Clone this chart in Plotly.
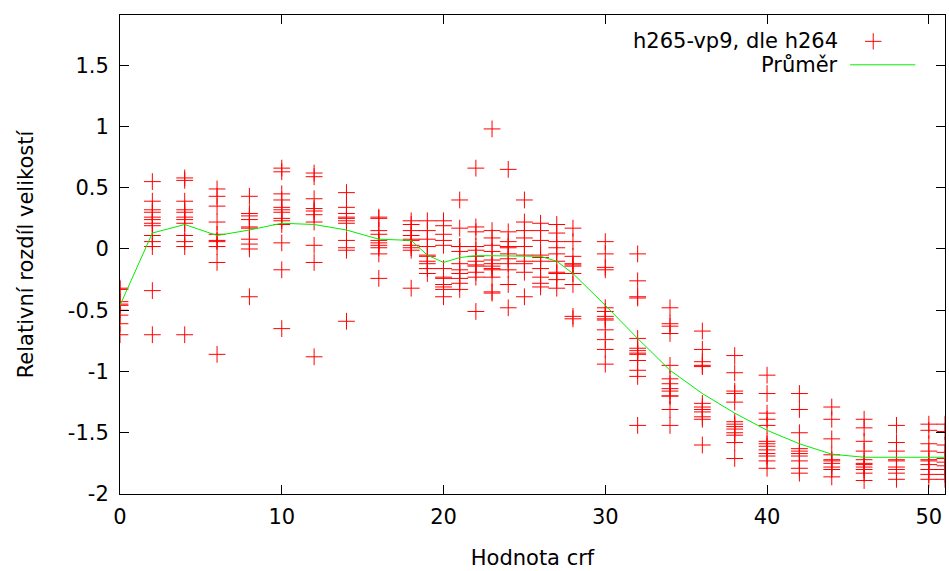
import plotly.graph_objects as go

# crf values for each column of points
crf = [0, 2, 4, 6, 8, 10, 12, 14, 16, 18, 19, 20, 21, 22, 23, 24, 25, 26, 27, 28,
       30, 32, 34, 36, 38, 40, 42, 44, 46, 48, 50, 51]

# relative size difference h265-vp9 (relative to h264), one list per crf
rel_diff = [
    [-0.32, -0.33, -0.43, -0.45, -0.46, -0.50, -0.54, -0.61, -0.70],
    [0.55, 0.39, 0.32, 0.30, 0.26, 0.24, 0.21, 0.19, 0.11, 0.06, 0.02, -0.34, -0.70],
    [0.58, 0.56, 0.39, 0.32, 0.30, 0.26, 0.24, 0.21, 0.11, 0.06, 0.02, -0.70],
    [0.49, 0.43, 0.35, 0.22, 0.12, 0.07, 0.06, 0.02, -0.11, -0.86],
    [0.43, 0.29, 0.27, 0.24, 0.18, 0.17, 0.08, 0.04, 0.00, -0.39],
    [0.66, 0.63, 0.45, 0.40, 0.34, 0.32, 0.30, 0.25, 0.23, 0.20, 0.05, -0.17, -0.65],
    [0.62, 0.59, 0.41, 0.33, 0.31, 0.28, 0.22, 0.03, -0.11, -0.88],
    [0.46, 0.34, 0.29, 0.26, 0.25, 0.23, 0.21, 0.07, 0.01, -0.01, -0.59],
    [0.26, 0.25, 0.15, 0.12, 0.07, 0.05, 0.03, 0.01, -0.04, -0.24],
    [0.23, 0.20, 0.15, 0.11, 0.08, 0.07, 0.03, 0.01, -0.01, -0.32],
    [0.23, 0.15, 0.08, 0.02, -0.05, -0.06, -0.10, -0.12, -0.16, -0.20],
    [0.23, 0.19, 0.12, 0.07, 0.03, -0.16, -0.23, -0.24, -0.29, -0.31, -0.33, -0.39],
    [0.40, 0.17, 0.02, 0.02, -0.02, -0.12, -0.17, -0.20, -0.24, -0.28, -0.33],
    [0.66, 0.18, 0.14, 0.02, -0.01, -0.06, -0.10, -0.13, -0.14, -0.19, -0.23, -0.51],
    [0.98, 0.15, 0.09, 0.03, -0.02, -0.09, -0.12, -0.14, -0.16, -0.17, -0.23, -0.35, -0.36],
    [0.65, 0.14, 0.06, 0.02, 0.01, -0.04, -0.08, -0.12, -0.17, -0.29, -0.48],
    [0.40, 0.22, 0.15, 0.09, 0.02, -0.05, -0.10, -0.12, -0.19, -0.39],
    [0.21, 0.15, 0.07, -0.05, -0.07, -0.10, -0.16, -0.23, -0.28, -0.31],
    [0.20, 0.13, 0.06, 0.01, -0.04, -0.10, -0.19, -0.20, -0.25, -0.32],
    [0.17, 0.06, -0.06, -0.12, -0.13, -0.14, -0.20, -0.29, -0.55, -0.57],
    [0.06, -0.04, -0.15, -0.17, -0.48, -0.51, -0.55, -0.57, -0.58, -0.66, -0.74, -0.82, -0.94],
    [-0.04, -0.26, -0.39, -0.40, -0.73, -0.81, -0.83, -0.85, -0.86, -0.91, -0.99, -1.04, -1.44],
    [-0.48, -0.61, -0.63, -0.69, -0.95, -1.06, -1.10, -1.14, -1.16, -1.20, -1.20, -1.31, -1.44],
    [-0.67, -0.82, -0.92, -0.95, -0.96, -1.26, -1.29, -1.31, -1.33, -1.37, -1.39, -1.60],
    [-0.87, -1.01, -1.16, -1.18, -1.25, -1.41, -1.43, -1.45, -1.47, -1.50, -1.52, -1.58, -1.71],
    [-1.03, -1.18, -1.34, -1.39, -1.44, -1.57, -1.59, -1.61, -1.64, -1.67, -1.69, -1.73, -1.79],
    [-1.18, -1.31, -1.50, -1.63, -1.65, -1.67, -1.69, -1.73, -1.79, -1.83],
    [-1.29, -1.39, -1.55, -1.68, -1.72, -1.73, -1.75, -1.78, -1.80, -1.86],
    [-1.39, -1.46, -1.57, -1.65, -1.72, -1.75, -1.76, -1.78, -1.80, -1.83, -1.89],
    [-1.44, -1.58, -1.65, -1.72, -1.73, -1.78, -1.80, -1.83, -1.88],
    [-1.43, -1.48, -1.59, -1.65, -1.72, -1.73, -1.76, -1.80, -1.84, -1.88],
    [-1.43, -1.49, -1.60, -1.66, -1.71, -1.74, -1.77, -1.80, -1.84, -1.88],
]

# mean per crf (green line)
mean_diff = [-0.46, 0.13, 0.20, 0.11, 0.155, 0.21, 0.20, 0.155, 0.08, 0.07, -0.05, -0.11,
             -0.07, -0.055, -0.055, -0.055, -0.055, -0.06, -0.10, -0.20, -0.46, -0.73,
             -0.99, -1.18, -1.34, -1.48, -1.59, -1.675, -1.70, -1.70, -1.70, -1.70]

x_ticks = [0, 10, 20, 30, 40, 50]
y_ticks = [-2, -1.5, -1, -0.5, 0, 0.5, 1, 1.5]
y_tick_labels = ["-2", "-1.5", "-1", "-0.5", "0", "0.5", "1", "1.5"]

FONT = "DejaVu Sans"
FSIZE = 21
RED = "#ff0000"
GREEN = "#00ee00"

# flatten the columns into x/y pairs
pts_x = [c for c, ys in zip(crf, rel_diff) for _ in ys]
pts_y = [y for ys in rel_diff for y in ys]

fig = go.Figure()
fig.add_trace(go.Scatter(
    x=pts_x, y=pts_y, mode="markers", name="h265-vp9, dle h264",
    marker=dict(symbol="cross-thin", size=12, line=dict(color=RED, width=1), color=RED),
    showlegend=False, cliponaxis=True,
))
fig.add_trace(go.Scatter(
    x=crf, y=mean_diff, mode="lines", name="Průměr",
    line=dict(color=GREEN, width=1), showlegend=False,
))

axis_common = dict(
    showline=True, linecolor="black", linewidth=1, mirror="ticks",
    ticks="inside", ticklen=9, tickcolor="black", showgrid=False, zeroline=False,
    automargin=False,
    tickfont=dict(family=FONT, size=FSIZE, color="black"),
)
fig.update_xaxes(range=[0, 51], tickvals=x_ticks, ticklabelstandoff=4,
                 title=dict(text="Hodnota crf", font=dict(family=FONT, size=FSIZE, color="black"), standoff=22),
                 **axis_common)
fig.update_yaxes(range=[-2, 1.91], tickvals=y_ticks, ticktext=y_tick_labels, ticklabelstandoff=6,
                 title=dict(text="Relativní rozdíl velikostí", font=dict(family=FONT, size=FSIZE, color="black"), standoff=28),
                 **axis_common)

# gnuplot-style legend: text on the left, sample on the right
legend_font = dict(family=FONT, size=FSIZE, color="black")
fig.add_annotation(xref="paper", yref="paper", x=0.873, y=0.945, text="h265-vp9, dle h264",
                   showarrow=False, xanchor="right", yanchor="middle", font=legend_font)
fig.add_annotation(xref="paper", yref="paper", x=0.873, y=0.896, text="Průměr",
                   showarrow=False, xanchor="right", yanchor="middle", font=legend_font)
fig.add_shape(type="line", xref="paper", yref="paper", x0=0.903, x1=0.923, y0=0.945, y1=0.945,
              line=dict(color=RED, width=1))
fig.add_shape(type="line", xref="paper", yref="paper", x0=0.913, x1=0.913, y0=0.928, y1=0.962,
              line=dict(color=RED, width=1))
fig.add_shape(type="line", xref="paper", yref="paper", x0=0.885, x1=0.964, y0=0.896, y1=0.896,
              line=dict(color=GREEN, width=1))

fig.update_layout(
    width=949, height=571,
    margin=dict(l=120, r=4, t=15, b=77),
    plot_bgcolor="white", paper_bgcolor="white",
    font=dict(family=FONT, size=FSIZE, color="black"),
)

# drop the page's default body margin so the figure sits at the window's corner
fig.write_html("out.html", config={"displayModeBar": False},
               post_script="document.body.style.margin='0';document.body.style.overflow='hidden';")
